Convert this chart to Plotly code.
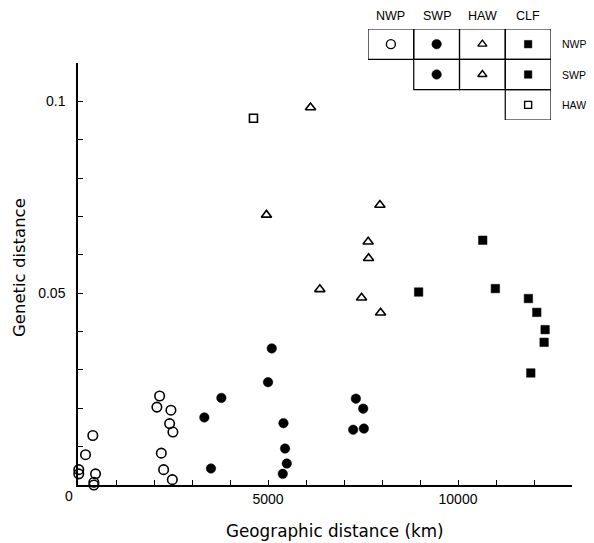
import plotly.graph_objects as go

# ---- data (geographic distance km, genetic distance) ----
nwp_nwp_x = [20, 20, 198, 390, 461, 417, 417, 2148, 2076, 2445, 2411, 2498, 2192, 2253, 2482]
nwp_nwp_y = [0.0040, 0.0029, 0.0079, 0.0129, 0.0029, 0.0007, 0.0000, 0.0232, 0.0203, 0.0195,
             0.0160, 0.0138, 0.0083, 0.0040, 0.0014]

swp_x = [3325, 3773, 3499, 5001, 5099, 5407, 5449, 5494, 5389, 7312, 7505, 7241, 7523]
swp_y = [0.0176, 0.0227, 0.0043, 0.0268, 0.0356, 0.0161, 0.0095, 0.0056, 0.0029, 0.0225,
         0.0199, 0.0144, 0.0147]

haw_x = [6119, 4959, 7945, 7636, 7647, 6364, 7462, 7963]
haw_y = [0.0984, 0.0704, 0.0730, 0.0634, 0.0591, 0.0510, 0.0488, 0.0449]

haw_clf_x = [4617]
haw_clf_y = [0.0956]

clf_x = [10651, 8964, 10983, 11853, 12074, 12293, 12266, 11916]
clf_y = [0.0638, 0.0503, 0.0512, 0.0486, 0.0450, 0.0405, 0.0372, 0.0292]

x_tickvals = list(range(0, 13001, 1000))
x_ticktext = ["" if v not in (5000, 10000) else str(v) for v in x_tickvals]
y_tickvals = [round(i * 0.01, 2) for i in range(0, 12)]
y_ticktext = {0.05: "0.05", 0.1: "0.1"}

# legend table
legend_cols = ["NWP", "SWP", "HAW", "CLF"]
legend_rows = ["NWP", "SWP", "HAW"]
legend_cells = [("NWP", "NWP", "circle-open"), ("NWP", "SWP", "circle"),
                ("NWP", "HAW", "triangle-up-open"), ("NWP", "CLF", "square"),
                ("SWP", "SWP", "circle"), ("SWP", "HAW", "triangle-up-open"),
                ("SWP", "CLF", "square"), ("HAW", "CLF", "square-open")]

FONT = "Liberation Sans, Arial, sans-serif"
TFONT = "DejaVu Sans, sans-serif"

# page has an 8px body margin: figure is drawn at (8, 8)
OFF = 8
W, H = 594 - OFF, 543 - OFF


def px(xp):
    return (xp - OFF) / W


def py(yp):
    return (543 - yp) / H


fig = go.Figure()


def add(x, y, symbol, size, lw=1.5):
    fig.add_trace(go.Scatter(
        x=x, y=y, mode="markers", cliponaxis=False, showlegend=False,
        marker=dict(symbol=symbol, size=size, color="black",
                    line=dict(color="black", width=lw))))


add(nwp_nwp_x, nwp_nwp_y, "circle-open", 9.5, 1.6)
add(swp_x, swp_y, "circle", 9.5, 0.5)
add(haw_x, haw_y, "triangle-up-open", 9, 1.6)
add(haw_clf_x, haw_clf_y, "square-open", 8, 1.6)
add(clf_x, clf_y, "square", 8.5, 0.5)

# legend table markers
sizes = {"circle-open": 9, "circle": 9.5, "triangle-up-open": 8, "square": 7.5, "square-open": 7}
for sym in ["circle-open", "circle", "triangle-up-open", "square", "square-open"]:
    cx = [legend_cols.index(c) for r, c, s in legend_cells if s == sym]
    cy = [legend_rows.index(r) for r, c, s in legend_cells if s == sym]
    fig.add_trace(go.Scatter(
        x=cx, y=cy, xaxis="x2", yaxis="y2", mode="markers", showlegend=False,
        marker=dict(symbol=sym, size=sizes[sym], color="black",
                    line=dict(color="black", width=1.4 if "open" in sym else 0.5))))

shapes = []
for r, c, s in legend_cells:
    ci, ri = legend_cols.index(c), legend_rows.index(r)
    shapes.append(dict(type="rect", xref="x2", yref="y2",
                       x0=ci - 0.5, x1=ci + 0.5, y0=ri - 0.5, y1=ri + 0.5,
                       line=dict(color="black", width=1.2)))

annotations = []
for i, c in enumerate(legend_cols):
    annotations.append(dict(x=i, y=-0.5, xref="x2", yref="y2", text=c, showarrow=False,
                            yanchor="middle", yshift=13,
                            font=dict(family=FONT, size=12.5, color="black")))
for i, r in enumerate(legend_rows):
    annotations.append(dict(x=3.5, y=i, xref="x2", yref="y2", text=r, showarrow=False,
                            xanchor="left", xshift=9,
                            font=dict(family=FONT, size=10.5, color="black")))

# zero label of x axis (set left of the axis corner)
annotations.append(dict(x=0, y=0, xref="x", yref="y", text="0", showarrow=False,
                        xshift=-9, yshift=-11, yanchor="middle",
                        font=dict(family=FONT, size=14, color="black")))
annotations.append(dict(x=px(335), y=py(531), xref="paper", yref="paper",
                        text="Geographic distance (km)", showarrow=False,
                        xanchor="center", yanchor="middle",
                        font=dict(family=TFONT, size=16.8, color="black")))
annotations.append(dict(x=px(19), y=py(268), xref="paper", yref="paper",
                        text="Genetic distance", showarrow=False, textangle=-90,
                        xanchor="center", yanchor="middle",
                        font=dict(family=TFONT, size=16.5, color="black")))

fig.update_layout(
    width=W, height=H,
    margin=dict(l=0, r=0, t=0, b=0),
    paper_bgcolor="white", plot_bgcolor="white",
    xaxis=dict(domain=[px(78), px(572)], range=[0, 13000],
               showgrid=False, zeroline=False, showline=True, linecolor="black", linewidth=1.5,
               ticks="inside", ticklen=5, tickwidth=1.2, tickcolor="black",
               tickvals=x_tickvals, ticktext=x_ticktext,
               tickfont=dict(family=FONT, size=14, color="black"), anchor="y"),
    yaxis=dict(domain=[py(485), py(63)], range=[0, 0.11],
               showgrid=False, zeroline=False, showline=True, linecolor="black", linewidth=1.5,
               ticks="inside", ticklen=5, tickwidth=1.2, tickcolor="black",
               tickvals=y_tickvals, ticktext=[y_ticktext.get(v, "") for v in y_tickvals],
               ticklabelstandoff=8,
               tickfont=dict(family=FONT, size=14, color="black"), anchor="x"),
    xaxis2=dict(domain=[px(368), px(551)], range=[-0.5, 3.5], visible=False,
                anchor="y2", fixedrange=True),
    yaxis2=dict(domain=[py(120), py(29)], range=[2.5, -0.5], visible=False,
                anchor="x2", fixedrange=True),
    shapes=shapes, annotations=annotations,
)

fig.write_html("out.html")
